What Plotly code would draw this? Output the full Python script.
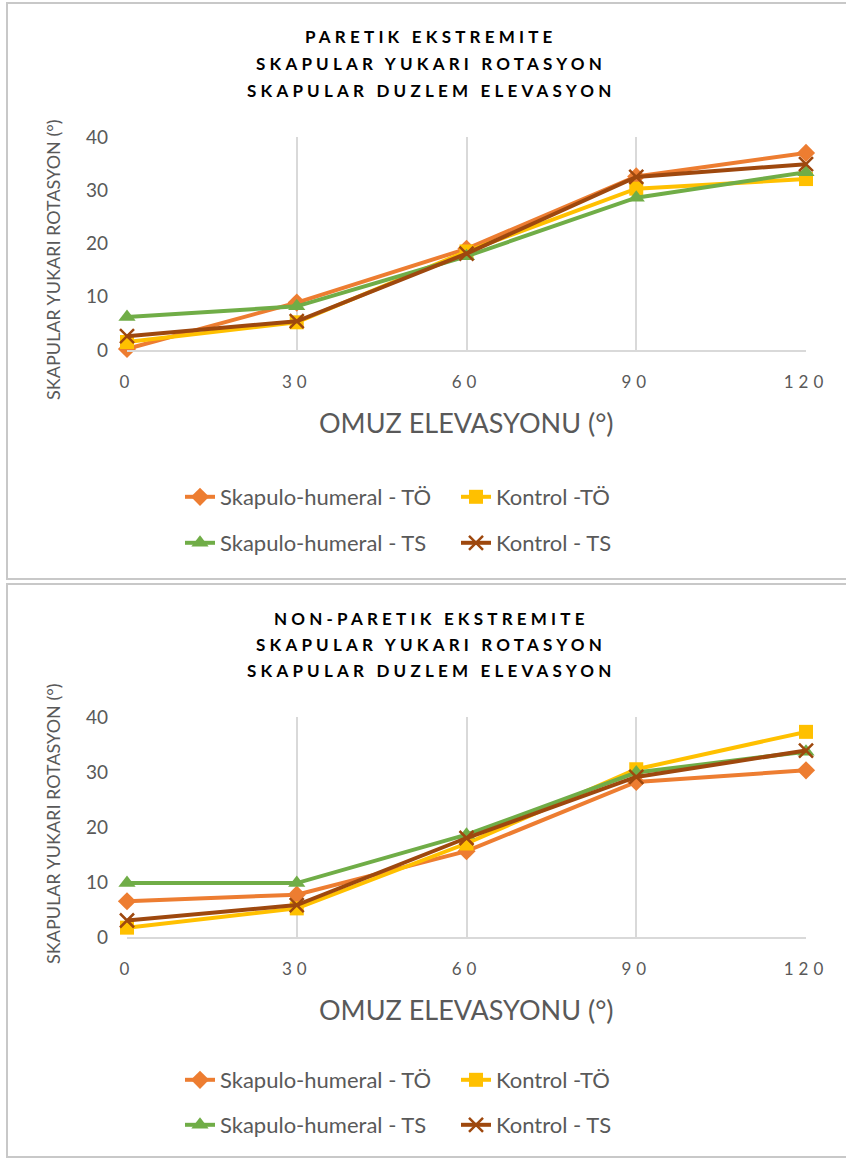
import plotly.graph_objects as go

x_vals = [0, 30, 60, 90, 120]
x_ticklabels = ["0", "30", "60", "90", "120"]
y_ticks = [0, 10, 20, 30, 40]

series_names = ["Skapulo-humeral - TÖ", "Kontrol -TÖ", "Skapulo-humeral - TS", "Kontrol - TS"]
series_colors = ["#ED7D31", "#FFC000", "#70AD47", "#9E480E"]
series_symbols = ["diamond", "square", "triangle-up", "x-thin"]

# Paretik ekstremite
paretik_sh_to = [0.2, 8.9, 19.0, 32.6, 37.0]
paretik_k_to = [1.5, 5.2, 18.5, 30.3, 32.1]
paretik_sh_ts = [6.2, 8.2, 17.6, 28.6, 33.4]
paretik_k_ts = [2.6, 5.4, 18.1, 32.5, 34.9]

# Non-paretik ekstremite
nonparetik_sh_to = [6.5, 7.7, 15.6, 28.2, 30.3]
nonparetik_k_to = [1.7, 5.2, 17.0, 30.5, 37.3]
nonparetik_sh_ts = [9.8, 9.8, 18.6, 29.9, 33.7]
nonparetik_k_ts = [3.0, 5.8, 18.0, 29.1, 33.9]

title_lines = [
    ["PARETIK EKSTREMITE", "SKAPULAR YUKARI ROTASYON", "SKAPULAR DUZLEM ELEVASYON"],
    ["NON-PARETIK EKSTREMITE", "SKAPULAR YUKARI ROTASYON", "SKAPULAR DUZLEM ELEVASYON"],
]
x_title = "OMUZ ELEVASYONU (°)"
y_title = "SKAPULAR YUKARI ROTASYON (°)"

W, H = 846, 1159
FONT = "Lato, 'Open Sans', sans-serif"
GRAY = "#595959"

def py(p):
    return 1 - p / H

def px(p):
    return p / W

def spaced(t, ls):
    return '<span style="letter-spacing:%spx">%s</span>' % (ls, t)

fig = go.Figure()

panels = [
    dict(data=[paretik_sh_to, paretik_k_to, paretik_sh_ts, paretik_k_ts],
         xa="x", ya="y", top=137, bottom=350, title_y=(37, 63.5, 90), xt_y=422, yt_y=260,
         leg=("legend", "legend2"), leg_y=(497, 543), box=(3, 579)),
    dict(data=[nonparetik_sh_to, nonparetik_k_to, nonparetik_sh_ts, nonparetik_k_ts],
         xa="x2", ya="y2", top=717, bottom=937, title_y=(618, 644, 670), xt_y=1009, yt_y=824,
         leg=("legend3", "legend4"), leg_y=(1080, 1125), box=(584, 1157)),
]

shapes = []
annotations = []
layout_extra = {}

for pi, p in enumerate(panels):
    for i in range(4):
        leg_name = p["leg"][0] if i < 2 else p["leg"][1]
        sym = series_symbols[i]
        if sym == "x-thin":
            marker = dict(symbol=sym, size=14, color=series_colors[i],
                          line=dict(color=series_colors[i], width=2.5))
        else:
            marker = dict(symbol=sym, size=14 if sym != "triangle-up" else 15,
                          color=series_colors[i], line=dict(width=0))
        fig.add_trace(go.Scatter(
            x=x_vals, y=p["data"][i], mode="lines+markers",
            name=series_names[i],
            line=dict(color=series_colors[i], width=4),
            marker=marker,
            xaxis=p["xa"], yaxis=p["ya"],
            cliponaxis=False,
            legend=leg_name,
        ))
    xkey = "xaxis" if p["xa"] == "x" else "xaxis2"
    ykey = "yaxis" if p["ya"] == "y" else "yaxis2"
    layout_extra[xkey] = dict(
        domain=[px(127), px(806)], range=[0, 120], anchor=p["ya"],
        tickmode="array", tickvals=x_vals,
        ticktext=[spaced(t, 5) for t in x_ticklabels],
        showgrid=True, gridcolor="#D9D9D9", gridwidth=1.5,
        showline=True, linecolor="#D9D9D9", linewidth=1.5,
        zeroline=False, ticks="", ticklen=0, ticklabelstandoff=16,
        tickfont=dict(family=FONT, size=17, color=GRAY),
    )
    layout_extra[ykey] = dict(
        domain=[py(p["bottom"]), py(p["top"])], range=[0, 40], anchor=p["xa"],
        tickmode="array", tickvals=y_ticks,
        showgrid=False, zeroline=False, showline=False, ticks="",
        ticklabelstandoff=18,
        tickfont=dict(family=FONT, size=19, color=GRAY),
    )
    for li, ln in enumerate(p["leg"]):
        layout_extra[ln] = dict(
            orientation="h", x=px(180), xanchor="left",
            y=py(p["leg_y"][li]), yanchor="middle",
            xref="paper", yref="paper",
            entrywidth=231, entrywidthmode="pixels",
            font=dict(family=FONT, size=22, color=GRAY),
            bgcolor="rgba(0,0,0,0)", traceorder="normal",
        )
    for k, line in enumerate(title_lines[pi]):
        annotations.append(dict(
            text="<b>" + spaced(line, 4.2) + "</b>",
            x=px(431), y=py(p["title_y"][k]), xref="paper", yref="paper",
            showarrow=False, xanchor="center", yanchor="middle",
            font=dict(family=FONT, size=17, color="#000000"),
        ))
    annotations.append(dict(
        text=x_title, x=px(466), y=py(p["xt_y"]), xref="paper", yref="paper",
        showarrow=False, xanchor="center", yanchor="middle",
        font=dict(family=FONT, size=27, color=GRAY),
    ))
    annotations.append(dict(
        text=y_title, x=px(53), y=py(p["yt_y"]), xref="paper", yref="paper",
        showarrow=False, xanchor="center", yanchor="middle", textangle=-90,
        font=dict(family=FONT, size=18, color=GRAY),
    ))
    shapes.append(dict(
        type="rect", xref="paper", yref="paper",
        x0=px(7), x1=px(852), y0=py(p["box"][1]), y1=py(p["box"][0]),
        line=dict(color="#C8C8C8", width=2), fillcolor="rgba(0,0,0,0)", layer="below",
    ))

fig.update_layout(
    width=W, height=H,
    margin=dict(l=0, r=0, t=0, b=0, autoexpand=False),
    paper_bgcolor="white", plot_bgcolor="white",
    showlegend=True,
    shapes=shapes, annotations=annotations,
    **layout_extra,
)

fig.write_html("out.html", post_script="document.body.style.margin='0';document.body.style.overflow='hidden';")
